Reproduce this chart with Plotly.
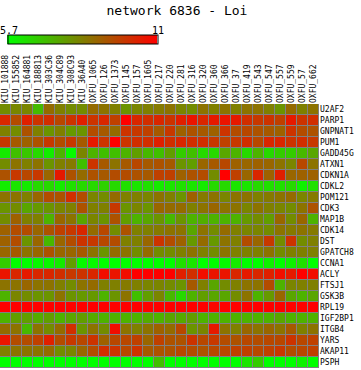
import plotly.graph_objects as go

title_text = "network 6836 - Loi"

samples = ["KIU_101888", "KIU_155852", "KIU_164881", "KIU_188813", "KIU_303C36",
           "KIU_304C89", "KIU_308C93", "KIU_36A40", "OXFU_1065", "OXFU_126",
           "OXFU_1373", "OXFU_145", "OXFU_157", "OXFU_1605", "OXFU_217",
           "OXFU_220", "OXFU_281", "OXFU_316", "OXFU_320", "OXFU_360",
           "OXFU_366", "OXFU_37", "OXFU_419", "OXFU_543", "OXFU_547",
           "OXFU_557", "OXFU_559", "OXFU_57", "OXFU_662"]

genes = ["U2AF2", "PARP1", "GNPNAT1", "PUM1", "GADD45G", "ATXN1", "CDKN1A",
         "CDKL2", "POM121", "CDK3", "MAP1B", "CDK14", "DST", "GPATCH8", "CCNA1",
         "ACLY", "FTSJ1", "GSK3B", "RPL19", "IGF2BP1", "ITGB4", "YARS",
         "AKAP11", "PSPH"]

zmin_val = 5.7
zmax_val = 11.0
scale_labels = ["5.7", "11"]

U2AF2   = [8.09, 8.19, 8.24, 7.13, 8.77, 8.35, 8.09, 8.09, 8.77, 8.62, 8.35, 7.93, 8.24, 8.35, 8.46, 8.62, 8.24, 8.09, 8.62, 8.35, 8.62, 8.35, 8.62, 8.62, 8.35, 7.93, 8.77, 8.35, 8.62]
PARP1   = [10.21, 9.41, 10.36, 9.94, 10.05, 9.52, 9.94, 10.36, 9.94, 10.21, 9.68, 11.0, 10.21, 10.05, 10.21, 9.94, 10.36, 10.58, 10.21, 10.47, 10.58, 10.47, 10.05, 9.83, 9.94, 9.68, 10.47, 9.94, 10.05]
GNPNAT1 = [8.35, 8.09, 9.30, 8.35, 7.93, 8.35, 7.82, 7.93, 9.41, 9.15, 8.77, 9.94, 9.83, 9.68, 9.15, 9.83, 8.99, 9.30, 9.15, 8.99, 9.94, 9.41, 9.52, 9.30, 9.15, 8.99, 9.94, 9.41, 9.30]
PUM1    = [9.83, 9.15, 8.99, 9.30, 9.83, 9.41, 9.83, 9.15, 10.47, 9.94, 11.0, 9.94, 10.05, 10.05, 10.36, 10.05, 10.21, 10.05, 10.05, 9.83, 9.68, 9.83, 10.05, 9.52, 10.21, 10.21, 9.94, 10.05, 9.83]
GADD45G = [6.12, 7.03, 6.87, 6.50, 6.07, 7.29, 5.81, 8.24, 7.29, 7.03, 7.03, 7.29, 7.71, 7.18, 7.03, 7.71, 6.76, 7.03, 6.50, 6.50, 7.56, 7.29, 6.50, 7.29, 6.50, 6.76, 6.76, 7.18, 7.56]
ATXN1   = [8.09, 8.62, 8.35, 8.62, 7.93, 8.35, 8.46, 7.03, 9.94, 9.15, 8.62, 9.15, 9.52, 9.15, 9.30, 9.15, 7.93, 7.71, 8.88, 9.15, 9.52, 8.99, 8.88, 8.99, 8.88, 8.62, 8.24, 9.52, 8.62]
CDKN1A  = [9.30, 9.83, 9.52, 9.83, 8.88, 10.47, 9.30, 8.77, 9.30, 9.15, 9.41, 9.41, 9.30, 9.15, 9.68, 9.68, 8.99, 9.30, 9.41, 8.09, 11.0, 9.68, 8.88, 10.21, 8.99, 10.36, 8.88, 8.99, 8.99]
CDKL2   = [6.07, 6.23, 6.12, 6.50, 6.50, 6.12, 6.34, 6.50, 6.50, 6.65, 6.50, 6.34, 6.23, 6.34, 6.12, 6.23, 6.34, 6.23, 6.12, 6.50, 6.50, 6.23, 6.23, 6.50, 6.34, 6.34, 6.50, 5.97, 6.34]
POM121  = [8.62, 8.62, 8.35, 8.88, 9.41, 9.30, 10.05, 9.41, 8.24, 8.09, 8.77, 8.35, 8.35, 8.24, 8.62, 8.35, 7.93, 8.99, 8.46, 8.62, 8.24, 8.62, 8.62, 8.35, 8.46, 8.62, 8.77, 8.24, 8.46]
CDK3    = [7.93, 8.09, 7.56, 7.82, 7.93, 8.24, 8.35, 9.30, 8.35, 8.35, 9.83, 7.93, 8.24, 7.93, 8.88, 8.77, 8.77, 8.35, 8.62, 8.88, 8.62, 8.62, 8.24, 8.62, 8.35, 8.24, 8.09, 8.62, 9.30]
MAP1B   = [8.09, 8.99, 8.35, 8.35, 7.29, 8.88, 8.62, 7.56, 8.24, 7.93, 9.30, 7.71, 7.29, 7.56, 7.93, 7.18, 7.93, 7.29, 7.40, 7.29, 7.29, 7.29, 7.82, 8.09, 7.71, 8.88, 8.09, 8.88, 7.29]
CDK14   = [8.99, 9.41, 9.41, 8.88, 9.30, 9.68, 9.83, 10.21, 8.77, 9.52, 8.09, 9.30, 8.35, 8.35, 8.46, 8.62, 8.62, 7.56, 8.62, 8.09, 8.77, 8.35, 8.24, 8.24, 8.09, 8.62, 8.46, 8.62, 8.46]
DST     = [8.99, 9.41, 7.93, 8.88, 7.18, 8.88, 9.41, 9.94, 9.83, 9.52, 9.41, 8.35, 8.35, 8.88, 9.94, 9.41, 8.99, 7.82, 8.77, 7.82, 8.62, 8.35, 9.41, 8.88, 9.83, 8.09, 9.94, 8.09, 8.35]
GPATCH8 = [8.88, 9.15, 8.62, 8.88, 9.30, 8.88, 8.88, 9.15, 8.62, 7.93, 8.77, 8.62, 8.09, 8.77, 8.09, 8.09, 8.35, 8.62, 8.35, 8.09, 8.62, 8.35, 8.35, 8.35, 8.62, 8.09, 8.35, 8.35, 8.35]
CCNA1   = [6.76, 5.70, 5.70, 5.86, 5.86, 6.12, 7.71, 5.81, 5.81, 5.70, 5.70, 5.70, 5.70, 5.70, 5.70, 5.70, 6.34, 6.23, 5.70, 5.70, 5.81, 6.12, 5.70, 5.70, 5.97, 5.70, 5.97, 6.34, 5.70]
ACLY    = [10.58, 10.21, 10.47, 10.21, 10.21, 10.05, 9.83, 9.94, 10.21, 10.74, 10.58, 10.74, 11.0, 11.0, 11.0, 11.0, 10.36, 10.05, 10.74, 10.58, 10.58, 10.21, 10.47, 10.21, 10.36, 10.74, 10.47, 11.0, 10.74]
FTSJ1   = [8.62, 8.62, 8.88, 8.62, 8.62, 8.35, 8.09, 8.62, 8.77, 8.35, 8.35, 8.46, 8.35, 8.24, 8.24, 8.09, 7.93, 9.15, 8.35, 7.56, 8.09, 8.35, 8.62, 8.62, 9.41, 7.29, 8.24, 8.35, 8.35]
GSK3B   = [7.29, 8.24, 8.09, 7.93, 7.93, 8.62, 7.93, 7.82, 7.82, 7.29, 7.93, 8.62, 7.03, 7.71, 8.24, 7.18, 6.50, 7.29, 7.71, 7.56, 7.56, 8.09, 8.62, 7.29, 7.82, 8.88, 7.56, 7.29, 7.56]
RPL19   = [11.0, 11.0, 11.0, 11.0, 11.0, 11.0, 11.0, 11.0, 11.0, 11.0, 11.0, 11.0, 11.0, 11.0, 11.0, 11.0, 11.0, 11.0, 11.0, 10.89, 11.0, 11.0, 11.0, 11.0, 11.0, 11.0, 11.0, 11.0, 11.0]
IGF2BP1 = [7.29, 7.71, 7.71, 7.45, 7.71, 7.29, 7.56, 7.71, 7.45, 7.29, 7.29, 7.29, 7.29, 7.45, 7.29, 7.56, 7.45, 7.71, 7.29, 7.29, 7.29, 7.29, 7.29, 7.29, 7.29, 7.56, 7.29, 7.29, 7.29]
ITGB4   = [8.77, 8.62, 7.18, 8.62, 8.09, 8.77, 10.05, 7.93, 8.62, 8.09, 10.74, 8.62, 8.35, 8.62, 8.99, 8.77, 9.52, 7.93, 8.24, 10.47, 8.62, 8.35, 8.88, 8.62, 8.88, 8.62, 9.15, 8.35, 8.62]
YARS    = [10.58, 9.41, 9.41, 9.68, 10.36, 9.41, 9.83, 9.52, 9.94, 8.99, 9.52, 9.52, 9.68, 8.88, 9.68, 9.30, 9.30, 9.94, 9.52, 9.83, 9.41, 9.30, 9.52, 9.41, 9.52, 9.52, 9.94, 9.52, 9.68]
AKAP11  = [8.35, 8.62, 8.62, 8.62, 8.77, 8.09, 8.24, 8.88, 9.41, 10.05, 9.94, 9.52, 9.94, 9.15, 9.30, 9.30, 9.52, 9.41, 9.30, 9.52, 9.52, 9.68, 9.68, 9.52, 9.68, 9.83, 9.41, 9.52, 9.68]
PSPH    = [5.70, 5.70, 5.70, 5.70, 5.70, 5.70, 5.70, 5.70, 5.70, 5.70, 5.70, 5.70, 5.70, 5.70, 7.03, 5.70, 5.70, 5.70, 5.70, 5.70, 5.70, 5.70, 6.23, 6.76, 5.70, 5.70, 5.70, 5.97, 5.70]

z = [U2AF2, PARP1, GNPNAT1, PUM1, GADD45G, ATXN1, CDKN1A, CDKL2, POM121, CDK3,
     MAP1B, CDK14, DST, GPATCH8, CCNA1, ACLY, FTSJ1, GSK3B, RPL19, IGF2BP1,
     ITGB4, YARS, AKAP11, PSPH]

MONO = "DejaVu Sans Mono"
W, H = 361, 370
ML, MR, MT, MB = 0, 42, 104, 2
PW, PH = W - ML - MR, H - MT - MB

# colour bar geometry (pixels from top-left)
CB_X0, CB_X1 = 8, 157
CB_BOTTOM = 45
CB_LABEL_Y = 30.5

fig = go.Figure(go.Heatmap(
    z=z, x=samples, y=genes,
    zmin=zmin_val, zmax=zmax_val,
    colorscale=[[0, "rgb(0,255,0)"], [1, "rgb(255,0,0)"]],
    xgap=1, ygap=1,
    colorbar=dict(
        orientation="h",
        xref="container", yref="container",
        x=CB_X0 / W, xanchor="left",
        y=1 - CB_BOTTOM / H, yanchor="bottom",
        lenmode="pixels", len=CB_X1 - CB_X0 + 1,
        thickness=9,
        xpad=0, ypad=0,
        outlinecolor="black", outlinewidth=1,
        showticklabels=False,
        ticks="",
    ),
))

for val, lab, px in [(zmin_val, scale_labels[0], CB_X0 + 0.5),
                     (zmax_val, scale_labels[1], CB_X1 + 0.5)]:
    fig.add_annotation(
        text=lab, xref="paper", yref="paper",
        x=(px - ML) / PW, y=(H - MB - CB_LABEL_Y) / PH,
        xanchor="center", yanchor="middle", showarrow=False,
        font=dict(family=MONO, size=10, color="black"),
    )

fig.update_layout(
    width=W, height=H,
    margin=dict(l=ML, r=MR, t=MT, b=MB, pad=0, autoexpand=False),
    paper_bgcolor="white",
    plot_bgcolor="rgb(128,128,128)",
    title=dict(text=title_text, x=177 / W, xanchor="center", xref="container",
               y=1 - 10 / H, yanchor="middle", yref="container",
               font=dict(family=MONO, size=13, color="black")),
    xaxis=dict(side="top", tickmode="array", tickvals=samples, ticktext=samples,
               tickangle=-90, ticks="", showgrid=False, zeroline=False,
               automargin=False,
               tickfont=dict(family=MONO, size=8, color="black")),
    yaxis=dict(side="right", autorange="reversed", tickmode="array",
               tickvals=genes, ticktext=genes, ticks="", showgrid=False,
               zeroline=False, automargin=False,
               tickfont=dict(family=MONO, size=8, color="black")),
)

fig.write_html(
    "out.html",
    config={"displayModeBar": False},
    post_script="document.body.style.margin='0';document.body.style.overflow='hidden';",
)
